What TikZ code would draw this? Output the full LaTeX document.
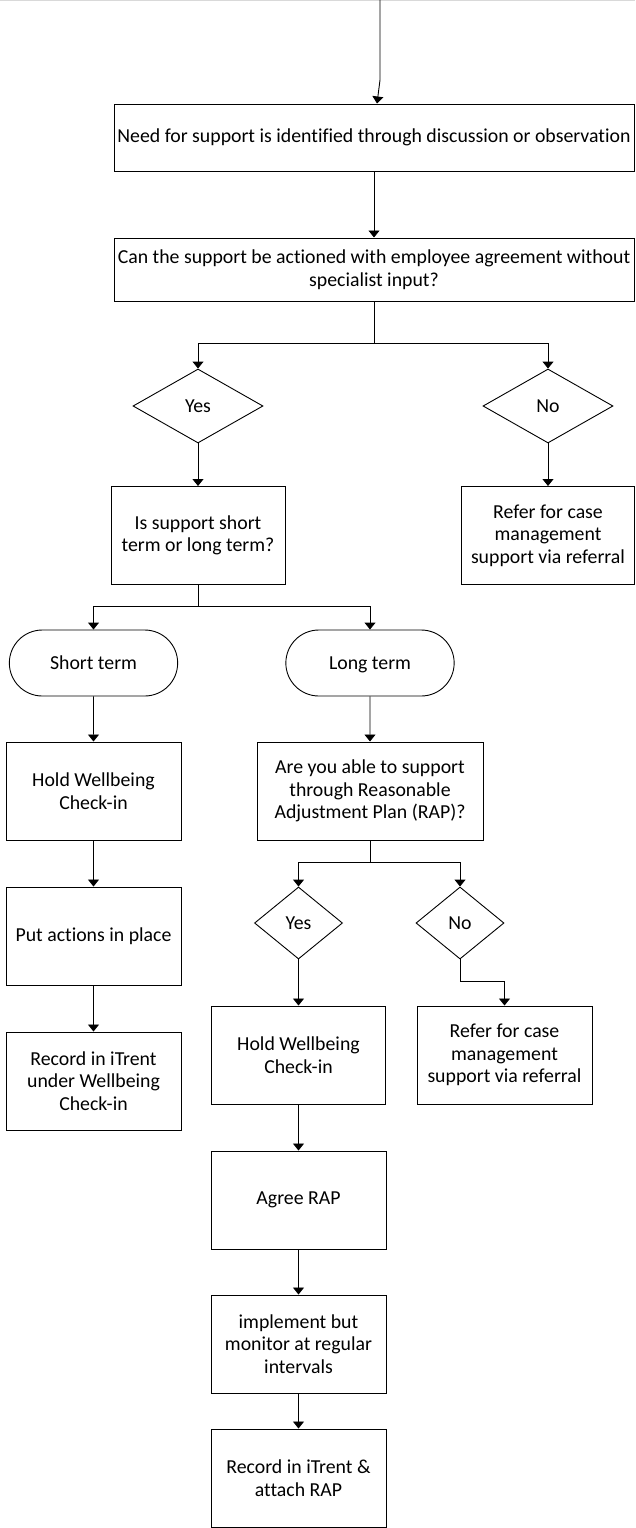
\documentclass[tikz,border=0pt]{standalone}
\usepackage{fontspec}
\setmainfont{Carlito}[Ligatures=NoCommon]
\usetikzlibrary{arrows.meta, positioning, shapes.geometric, shapes.misc}

\begin{document}
\begin{tikzpicture}[x=1pt, y=-1pt, line width=0.9pt,
    every node/.style={font=\fontsize{19.8}{22.5}\selectfont, align=center},
    box/.style={draw, rectangle, line width=1pt, minimum width=174pt, minimum height=98pt, inner sep=1pt},
    decision/.style={draw, diamond, minimum width=88pt, minimum height=72pt, inner sep=0pt, text height=13pt, text depth=0pt},
    term/.style={draw, rounded rectangle, minimum width=175pt, minimum height=66pt, text height=13pt, text depth=0pt},
    arr/.style={-{Triangle[width=11pt, length=7pt]}}]
  \useasboundingbox (0,0) rectangle (635,1528);
  % page edge
  \draw[gray!30, line width=1pt] (0,0.5) -- (635,0.5);
  % first question
  \node[box, minimum width=520pt, minimum height=67pt] (need) at (374,137.5)
    {Need for support is identified through discussion or observation};
  \node[box, minimum width=520pt, minimum height=63pt] (can) at (374,269.5)
    {Can the support be actioned with employee agreement without\\ specialist input?};
  \node[decision, minimum width=130pt, minimum height=74pt] (yes1) at (198,406) {Yes};
  \node[decision, minimum width=130pt, minimum height=74pt] (no1) at (548,406) {No};
  \node[box] (which) at (198,535.5) {Is support short\\ term or long term?};
  \node[box, minimum width=173pt] (refer1) at (548,535.5) {Refer for case\\ management\\ support via referral};
  % short term branch
  \node[term] (shortt) at (93.5,663) {Short term};
  \node[box, minimum width=175pt] (hold1) at (93.5,791) {Hold Wellbeing\\ Check-in};
  \node[box, minimum width=175pt] (act) at (93.5,936) {Put actions in place};
  \node[box, minimum width=175pt] (rec1) at (93.5,1081) {Record in iTrent\\ under Wellbeing\\ Check-in};
  % long term branch
  \node[term] (longt) at (370,663) {Long term};
  \node[box, minimum width=226pt] (able) at (370,791) {Are you able to support\\ through Reasonable\\ Adjustment Plan (RAP)?};
  \node[decision] (yes2) at (298.5,923) {Yes};
  \node[decision] (no2) at (460,923) {No};
  \node[box] (hold2) at (298.5,1055) {Hold Wellbeing\\ Check-in};
  \node[box, minimum width=175pt] (refer2) at (504.5,1055) {Refer for case\\ management\\ support via referral};
  \node[box, minimum width=175pt] (agree) at (298.5,1200) {Agree RAP};
  \node[box, minimum width=175pt] (impl) at (298.5,1344) {implement but\\ monitor at regular\\ intervals};
  \node[box, minimum width=175pt] (rec2) at (298.5,1478) {Record in iTrent \&\\ attach RAP};
  % junctions
  \coordinate (entry) at (380,0);
  \coordinate (entrybend) at (380,80);
  \coordinate (split1) at (374,343);
  \coordinate (split2) at (198,606);
  \coordinate (split3) at (370,862);
  \coordinate (nobend) at (460,981);
  % connectors
  \draw[arr] (entry) -- (entrybend) -- ([xshift=3pt]need.north);
  \draw[arr] (need) -- (can);
  \draw (can.south) -- (split1);
  \draw[arr] (split1) -| (yes1.north);
  \draw[arr] (split1) -| (no1.north);
  \draw[arr] (yes1) -- (which);
  \draw[arr] (no1) -- (refer1);
  \draw (which.south) -- (split2);
  \draw[arr] (split2) -| (shortt.north);
  \draw[arr] (split2) -| (longt.north);
  \draw[arr] (shortt) -- (hold1);
  \draw[arr] (hold1) -- (act);
  \draw[arr] (act) -- (rec1);
  \draw[arr] (longt) -- (able);
  \draw (able.south) -- (split3);
  \draw[arr] (split3) -| (yes2.north);
  \draw[arr] (split3) -| (no2.north);
  \draw[arr] (yes2) -- (hold2);
  \draw[arr] (no2.south) -- (nobend) -| (refer2.north);
  \draw[arr] (hold2) -- (agree);
  \draw[arr] (agree) -- (impl);
  \draw[arr] (impl) -- (rec2);
\end{tikzpicture}
\end{document}
